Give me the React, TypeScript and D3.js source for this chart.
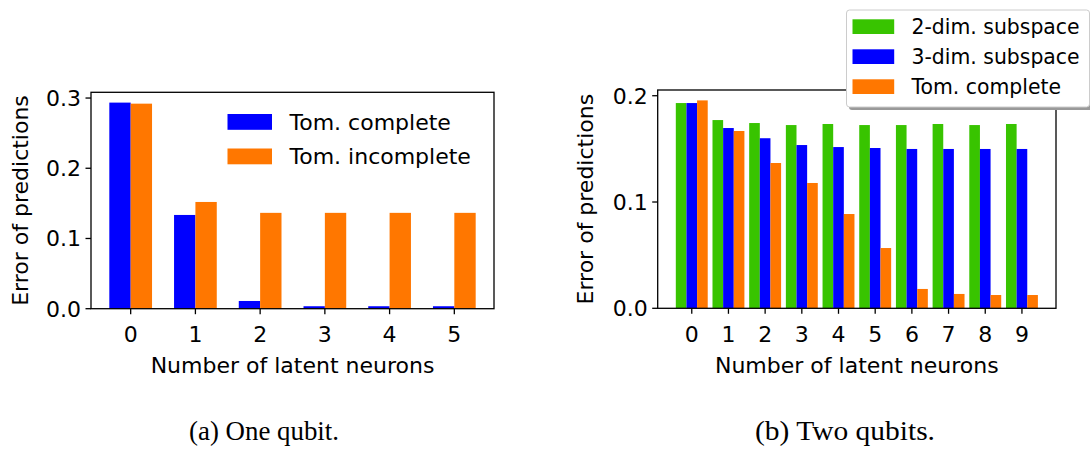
import React from "react";
import * as d3 from "d3";

// ---- Data ----
const leftCategories = [0, 1, 2, 3, 4, 5];
const leftTomComplete = [0.2935, 0.1335, 0.011, 0.0035, 0.0035, 0.0035];
const leftTomIncomplete = [0.292, 0.152, 0.1365, 0.1365, 0.1365, 0.1365];
const leftYTicks = [0.0, 0.1, 0.2, 0.3];
const leftSeriesNames = ["Tom. complete", "Tom. incomplete"];

const rightCategories = [0, 1, 2, 3, 4, 5, 6, 7, 8, 9];
const right2Dim = [0.1931, 0.1771, 0.1743, 0.1724, 0.1734, 0.1724, 0.1724, 0.1734, 0.1724, 0.1734];
const right3Dim = [0.1931, 0.1696, 0.160, 0.1536, 0.1517, 0.1508, 0.1499, 0.1499, 0.1499, 0.1499];
const rightTomComplete = [0.1956, 0.1668, 0.1367, 0.1179, 0.0887, 0.0567, 0.0182, 0.0135, 0.0125, 0.0125];
const rightYTicks = [0.0, 0.1, 0.2];
const rightSeriesNames = ["2-dim. subspace", "3-dim. subspace", "Tom. complete"];

const captions = ["(a) One qubit.", "(b) Two qubits."];
const xLabel = "Number of latent neurons";
const yLabel = "Error of predictions";

const BLUE = "#0000ff";
const ORANGE = "#ff7700";
const GREEN = "#38c400";
const FONT = "DejaVu Sans";

type Series = { name: string; values: number[]; color: string };

function BarPanel(props: {
  cats: number[];
  series: Series[];
  width: number;
  box: { x0: number; x1: number; y0: number; y1: number };
  yTicks: number[];
  yFmt: (v: number) => string;
  yLabelX: number;
}) {
  const { cats, series, width, box, yTicks, yFmt, yLabelX } = props;
  const n = series.length;
  const lo = cats[0] - (n * width) / 2;
  const hi = cats[cats.length - 1] + (n * width) / 2;
  const span = hi - lo;
  const x = d3.scaleLinear().domain([lo - 0.05 * span, hi + 0.05 * span]).range([box.x0, box.x1]);
  const maxV = d3.max(series.flatMap((s) => s.values)) as number;
  const y = d3.scaleLinear().domain([0, maxV * 1.05]).range([box.y1, box.y0]);
  const fs = 22;
  return (
    <g>
      {series.map((s, si) =>
        s.values.map((v, i) => {
          const c = cats[i] - (n * width) / 2 + si * width;
          return (
            <rect
              key={s.name + i}
              x={x(c)}
              y={y(v)}
              width={x(c + width) - x(c)}
              height={y(0) - y(v)}
              fill={s.color}
            />
          );
        })
      )}
      <rect
        x={box.x0}
        y={box.y0}
        width={box.x1 - box.x0}
        height={box.y1 - box.y0}
        fill="none"
        stroke="#000"
        strokeWidth={1.3}
      />
      {yTicks.map((t) => (
        <g key={"yt" + t}>
          <line x1={box.x0 - 5.5} x2={box.x0} y1={y(t)} y2={y(t)} stroke="#000" strokeWidth={1.3} />
          <text
            x={box.x0 - 10}
            y={y(t)}
            dy="0.36em"
            textAnchor="end"
            fontFamily={FONT}
            fontSize={fs}
            fill="#000"
          >
            {yFmt(t)}
          </text>
        </g>
      ))}
      {cats.map((c) => (
        <g key={"xt" + c}>
          <line x1={x(c)} x2={x(c)} y1={box.y1} y2={box.y1 + 5.5} stroke="#000" strokeWidth={1.3} />
          <text x={x(c)} y={342} textAnchor="middle" fontFamily={FONT} fontSize={fs} fill="#000">
            {c}
          </text>
        </g>
      ))}
      <text
        x={(box.x0 + box.x1) / 2}
        y={372.5}
        textAnchor="middle"
        fontFamily={FONT}
        fontSize={fs}
        fill="#000"
      >
        {xLabel}
      </text>
      <text
        transform={`translate(${yLabelX},${(box.y0 + box.y1) / 2}) rotate(-90)`}
        textAnchor="middle"
        fontFamily={FONT}
        fontSize={fs}
        fill="#000"
      >
        {yLabel}
      </text>
    </g>
  );
}

export default function App() {
  const fmt = d3.format(".1f");
  const leftSeries: Series[] = [
    { name: leftSeriesNames[0], values: leftTomComplete, color: BLUE },
    { name: leftSeriesNames[1], values: leftTomIncomplete, color: ORANGE },
  ];
  const rightSeries: Series[] = [
    { name: rightSeriesNames[0], values: right2Dim, color: GREEN },
    { name: rightSeriesNames[1], values: right3Dim, color: BLUE },
    { name: rightSeriesNames[2], values: rightTomComplete, color: ORANGE },
  ];
  return (
    <svg
      width={1090}
      height={449}
      style={{ position: "absolute", left: 0, top: 0, background: "#fff" }}
    >
      <rect x={0} y={0} width={1090} height={449} fill="#fff" />
      <BarPanel
        cats={leftCategories}
        series={leftSeries}
        width={0.33}
        box={{ x0: 91, x1: 494, y0: 92.3, y1: 308.7 }}
        yTicks={leftYTicks}
        yFmt={fmt}
        yLabelX={28}
      />
      <BarPanel
        cats={rightCategories}
        series={rightSeries}
        width={0.29}
        box={{ x0: 657.7, x1: 1056, y0: 90, y1: 308.3 }}
        yTicks={rightYTicks}
        yFmt={fmt}
        yLabelX={593}
      />
      {/* left legend (no frame) */}
      {leftSeries.map((s, i) => (
        <g key={"ll" + i}>
          <rect x={227.5} y={114 + i * 34.5} width={44.5} height={15.8} fill={s.color} />
          <text x={289.5} y={130 + i * 34} fontFamily={FONT} fontSize={22} fill="#000">
            {s.name}
          </text>
        </g>
      ))}
      {/* right legend with frame and shadow */}
      <g>
        <rect x={849} y={13} width={243} height={97} rx={3} fill="#999" />
        <rect x={846.5} y={10} width={243} height={97} rx={3} fill="#fff" stroke="#ccc" strokeWidth={1} />
        {rightSeries.map((s, i) => (
          <g key={"rl" + i}>
            <rect x={852.5} y={19.3 + i * 30} width={41.7} height={14.7} fill={s.color} />
            <text x={911.5} y={33.5 + i * 30} fontFamily={FONT} fontSize={20.4} fill="#000">
              {s.name}
            </text>
          </g>
        ))}
      </g>
      {/* captions */}
      <text x={264} y={440} textAnchor="middle" fontFamily="Liberation Serif" fontSize={27} textLength={150} lengthAdjust="spacingAndGlyphs" fill="#000">
        {captions[0]}
      </text>
      <text x={845} y={440} textAnchor="middle" fontFamily="Liberation Serif" fontSize={27} textLength={180} lengthAdjust="spacingAndGlyphs" fill="#000">
        {captions[1]}
      </text>
    </svg>
  );
}
